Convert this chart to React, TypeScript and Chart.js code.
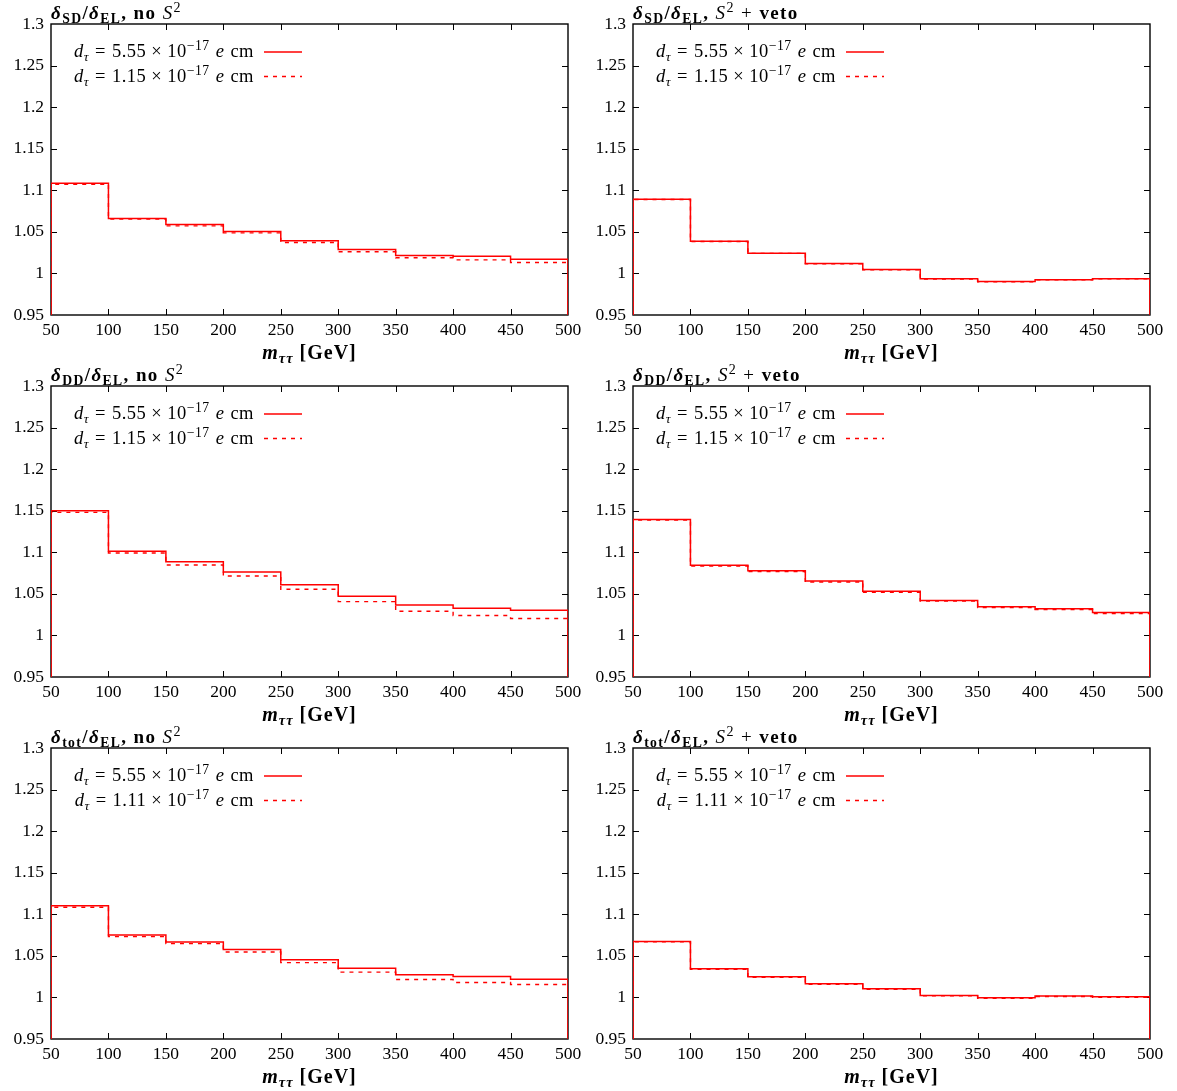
import React, { useEffect, useRef } from "react";
import { Chart, registerables } from "chart.js";

Chart.register(...registerables);

// ---------- data ----------
const binEdges = [50, 100, 150, 200, 250, 300, 350, 400, 450, 500];
const xTickValues = [50, 100, 150, 200, 250, 300, 350, 400, 450, 500];
const yTickValues = [0.95, 1.0, 1.05, 1.1, 1.15, 1.2, 1.25, 1.3];
const yMin = 0.95;
const yMax = 1.3;

const sdNoS2Solid = [1.1085, 1.066, 1.0588, 1.0504, 1.0392, 1.0287, 1.0215, 1.0208, 1.0172];
const sdNoS2Dashed = [1.1073, 1.0653, 1.0572, 1.0488, 1.0372, 1.026, 1.0188, 1.0163, 1.0132];
const sdVetoSolid = [1.0893, 1.0388, 1.0244, 1.0119, 1.0047, 0.9935, 0.9903, 0.9925, 0.9937];
const sdVetoDashed = [1.0889, 1.0384, 1.0241, 1.0116, 1.0044, 0.9932, 0.99, 0.9922, 0.9934];
const ddNoS2Solid = [1.15, 1.1011, 1.0887, 1.0763, 1.0611, 1.0471, 1.0367, 1.0327, 1.0303];
const ddNoS2Dashed = [1.148, 1.0991, 1.0847, 1.0715, 1.0555, 1.0407, 1.029, 1.024, 1.0203];
const ddVetoSolid = [1.1395, 1.0843, 1.0779, 1.0655, 1.053, 1.042, 1.0344, 1.032, 1.0276];
const ddVetoDashed = [1.1387, 1.0835, 1.0767, 1.0643, 1.0518, 1.0412, 1.0336, 1.031, 1.0264];
const totNoS2Solid = [1.1103, 1.0752, 1.0667, 1.0575, 1.0452, 1.0352, 1.0272, 1.0252, 1.022];
const totNoS2Dashed = [1.1084, 1.0731, 1.0647, 1.0547, 1.0418, 1.0304, 1.0216, 1.018, 1.0156];
const totVetoSolid = [1.0673, 1.0344, 1.0248, 1.0164, 1.0104, 1.0024, 0.9996, 1.0016, 1.0008];
const totVetoDashed = [1.0668, 1.0339, 1.0243, 1.0159, 1.0099, 1.0019, 0.9991, 1.0011, 1.0003];

const solidLabel = "5.55";
const dashedLabelSD = "1.15";
const dashedLabelDD = "1.15";
const dashedLabelTot = "1.11";

const panels = [
  { sub: "SD", veto: false, solid: sdNoS2Solid, dashed: sdNoS2Dashed, dLabel: dashedLabelSD },
  { sub: "SD", veto: true, solid: sdVetoSolid, dashed: sdVetoDashed, dLabel: dashedLabelSD },
  { sub: "DD", veto: false, solid: ddNoS2Solid, dashed: ddNoS2Dashed, dLabel: dashedLabelDD },
  { sub: "DD", veto: true, solid: ddVetoSolid, dashed: ddVetoDashed, dLabel: dashedLabelDD },
  { sub: "tot", veto: false, solid: totNoS2Solid, dashed: totNoS2Dashed, dLabel: dashedLabelTot },
  { sub: "tot", veto: true, solid: totVetoSolid, dashed: totVetoDashed, dLabel: dashedLabelTot },
];

// ---------- layout ----------
const PW = 582;
const PH = 362;
const FONT = '"Liberation Serif", "Times New Roman", serif';

function stepPoints(vals: number[]) {
  const pts: { x: number; y: number }[] = [{ x: binEdges[0], y: yMin }];
  vals.forEach((v, i) => {
    pts.push({ x: binEdges[i], y: v });
    pts.push({ x: binEdges[i + 1], y: v });
  });
  pts.push({ x: binEdges[binEdges.length - 1], y: yMin });
  return pts;
}

const framePlugin = {
  id: "frameTicks",
  beforeDatasetsDraw(chart: any) {
    const { ctx, chartArea: ca, scales } = chart;
    ctx.save();
    ctx.strokeStyle = "#000";
    ctx.lineWidth = 1;
    const L = 6;
    ctx.beginPath();
    xTickValues.forEach((v) => {
      const px = Math.round(scales.x.getPixelForValue(v)) + 0.5;
      if (v === xTickValues[0] || v === xTickValues[xTickValues.length - 1]) return;
      ctx.moveTo(px, ca.bottom);
      ctx.lineTo(px, ca.bottom - L);
      ctx.moveTo(px, ca.top);
      ctx.lineTo(px, ca.top + L);
    });
    yTickValues.forEach((v, i) => {
      if (i === 0 || i === yTickValues.length - 1) return;
      const py = Math.round(scales.y.getPixelForValue(v)) + 0.5;
      ctx.moveTo(ca.left, py);
      ctx.lineTo(ca.left + L, py);
      ctx.moveTo(ca.right, py);
      ctx.lineTo(ca.right - L, py);
    });
    ctx.stroke();
    ctx.lineWidth = 1.4;
    ctx.strokeRect(ca.left, ca.top, ca.right - ca.left, ca.bottom - ca.top);
    ctx.restore();
  },
  afterDraw(chart: any) {
    const { ctx, chartArea: ca } = chart;
    ctx.save();
    ctx.strokeStyle = "#ff0000";
    ctx.lineWidth = 1.5;
    const x0 = ca.left + 213;
    const x1 = ca.left + 251;
    ctx.beginPath();
    ctx.moveTo(x0, ca.top + 28);
    ctx.lineTo(x1, ca.top + 28);
    ctx.stroke();
    ctx.setLineDash([4, 5]);
    ctx.beginPath();
    ctx.moveTo(x0, ca.top + 52.5);
    ctx.lineTo(x1, ca.top + 52.5);
    ctx.stroke();
    ctx.restore();
  },
};

const subStyle: React.CSSProperties = { fontSize: "0.72em", position: "relative", top: "0.3em" };
const supStyle: React.CSSProperties = { fontSize: "0.74em", position: "relative", top: "-0.5em" };

function PanelChart({ solid, dashed }: { solid: number[]; dashed: number[] }) {
  const ref = useRef<HTMLCanvasElement | null>(null);
  useEffect(() => {
    if (!ref.current) return;
    const tickFont = { family: FONT, size: 17.5 };
    const chart = new Chart(ref.current, {
      type: "line",
      data: {
        datasets: [
          {
            data: stepPoints(dashed),
            borderColor: "#ff0000",
            borderWidth: 1.4,
            borderDash: [4, 5],
            pointRadius: 0,
            fill: false,
            tension: 0,
          },
          {
            data: stepPoints(solid),
            borderColor: "#ff0000",
            borderWidth: 1.5,
            pointRadius: 0,
            fill: false,
            tension: 0,
          },
        ],
      },
      options: {
        animation: false,
        responsive: false,
        devicePixelRatio: 1,
        layout: { padding: { left: 0, top: 24, right: 14, bottom: 0 } },
        plugins: { legend: { display: false }, tooltip: { enabled: false }, title: { display: false } },
        scales: {
          x: {
            type: "linear",
            min: binEdges[0],
            max: binEdges[binEdges.length - 1],
            afterBuildTicks: (s: any) => {
              s.ticks = xTickValues.map((v) => ({ value: v }));
            },
            ticks: {
              color: "#000",
              font: tickFont,
              padding: 5,
              maxRotation: 0,
              autoSkip: false,
              callback: (v: any) => String(v),
            },
            grid: { display: false, drawTicks: false },
            border: { display: false },
            afterFit: (s: any) => {
              s.height = 47;
              s.paddingLeft = 0;
              s.paddingRight = 0;
            },
          },
          y: {
            type: "linear",
            min: yMin,
            max: yMax,
            afterBuildTicks: (s: any) => {
              s.ticks = yTickValues.map((v) => ({ value: v }));
            },
            ticks: {
              color: "#000",
              font: tickFont,
              padding: 7,
              autoSkip: false,
              callback: (v: any) => String(Number(Number(v).toFixed(2))),
            },
            grid: { display: false, drawTicks: false },
            border: { display: false },
            afterFit: (s: any) => {
              s.width = 51;
              s.paddingTop = 0;
              s.paddingBottom = 0;
            },
          },
        },
      } as any,
      plugins: [framePlugin],
    });
    return () => chart.destroy();
  }, [solid, dashed]);
  return <canvas ref={ref} width={PW} height={PH} style={{ position: "absolute", left: 0, top: 0 }} />;
}

function Title({ sub, veto }: { sub: string; veto: boolean }) {
  return (
    <div
      style={{
        position: "absolute",
        left: 51,
        top: 2,
        fontFamily: FONT,
        fontSize: 19,
        fontWeight: "bold",
        letterSpacing: "1.4px",
        lineHeight: "22px",
        whiteSpace: "nowrap",
        color: "#000",
      }}
    >
      <span style={{ fontStyle: "italic" }}>δ</span>
      <span style={subStyle}>{sub}</span>/<span style={{ fontStyle: "italic" }}>δ</span>
      <span style={subStyle}>EL</span>,{" "}
      {veto ? (
        <>
          <span style={{ fontWeight: "normal" }}>
            <i>S</i>
            <span style={supStyle}>2</span> +{" "}
          </span>
          veto
        </>
      ) : (
        <>
          no{" "}
          <span style={{ fontWeight: "normal" }}>
            <i>S</i>
            <span style={supStyle}>2</span>
          </span>
        </>
      )}
    </div>
  );
}

function LegendText({ value, top }: { value: string; top: number }) {
  return (
    <div
      style={{
        position: "absolute",
        right: PW - 254,
        top,
        fontFamily: FONT,
        fontSize: 18.5,
        letterSpacing: "0.5px",
        lineHeight: "22px",
        whiteSpace: "nowrap",
        textAlign: "right",
        color: "#000",
      }}
    >
      <i>d</i>
      <span style={{ ...subStyle, fontStyle: "italic" }}>τ</span>
      <span style={{ margin: "0 6px" }}>=</span>
      {value}
      <span style={{ margin: "0 5px" }}>×</span>
      10<span style={supStyle}>−17</span>
      <i style={{ marginLeft: 6 }}>e</i>
      <span style={{ marginLeft: 6 }}>cm</span>
    </div>
  );
}

function XTitle() {
  return (
    <div
      style={{
        position: "absolute",
        left: 51,
        width: 517,
        top: 340,
        textAlign: "center",
        fontFamily: FONT,
        fontSize: 20,
        fontWeight: "bold",
        letterSpacing: "1px",
        lineHeight: "24px",
        whiteSpace: "nowrap",
        color: "#000",
      }}
    >
      <i>m</i>
      <span style={{ ...subStyle, fontStyle: "italic" }}>ττ</span> [GeV]
    </div>
  );
}

export default function App() {
  return (
    <div style={{ position: "absolute", left: 0, top: 0, width: 1177, height: 1091, background: "#fff" }}>
      {panels.map((p, i) => {
        const col = i % 2;
        const row = Math.floor(i / 2);
        return (
          <div
            key={i}
            style={{ position: "absolute", left: col * PW, top: row * PH, width: PW, height: PH }}
          >
            <PanelChart solid={p.solid} dashed={p.dashed} />
            <Title sub={p.sub} veto={p.veto} />
            <LegendText value={solidLabel} top={40} />
            <LegendText value={p.dLabel} top={65} />
            <XTitle />
          </div>
        );
      })}
    </div>
  );
}
